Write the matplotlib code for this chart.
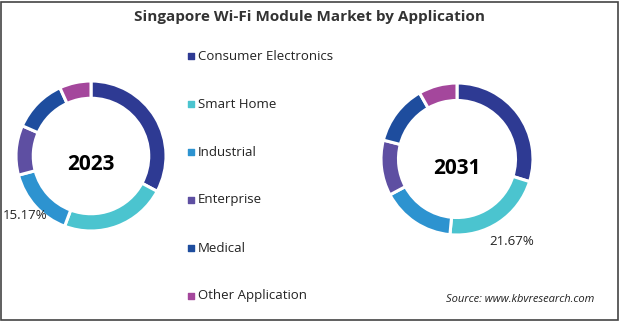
import numpy as np
import matplotlib.pyplot as plt
from matplotlib.patches import Rectangle

plt.rcParams['font.family'] = ['Open Sans', 'DejaVu Sans']

categories = ["Consumer Electronics", "Smart Home", "Industrial",
              "Enterprise", "Medical", "Other Application"]
colors = ["#2E3A93", "#4BC4CF", "#2D93D0", "#5E4FA2", "#1E4D9E", "#A4479C"]
share_2023 = [32.8, 22.9, 15.17, 10.7, 11.6, 6.8]
share_2031 = [29.8, 21.67, 15.7, 11.8, 12.8, 8.2]
years = ["2023", "2031"]
labelled = [2, 1]  # which slice gets its percentage shown


def donut(ax, values, cx, cy, r, year, idx, lab_dist):
    wedges, _ = ax.pie(values, colors=colors, startangle=90, counterclock=False,
                       center=(cx, cy), radius=r,
                       wedgeprops=dict(width=r * 0.23, edgecolor="white", linewidth=2.2))
    ax.text(cx, cy - 9, year, ha="center", va="center", fontsize=15,
            fontweight="bold", color="black")
    w = wedges[idx]
    mid = np.deg2rad((w.theta1 + w.theta2) / 2)
    ax.text(cx + lab_dist * r * np.cos(mid), cy + lab_dist * r * np.sin(mid),
            f"{values[idx]:.2f}%", ha="center", va="center", fontsize=9.5, color="#222222")


fig = plt.figure(figsize=(6.2, 3.21), dpi=100)
ax = fig.add_axes([0, 0, 1, 1])

donut(ax, share_2023, 91, 165, 75, years[0], labelled[0], 1.19)
donut(ax, share_2031, 457, 162, 76, years[1], labelled[1], 1.30)

# pie() resets the limits, so fix them afterwards
ax.set_xlim(0, 620)
ax.set_ylim(0, 321)
ax.set_aspect("equal")
ax.axis("off")

# legend in the middle
for i, (name, c) in enumerate(zip(categories, colors)):
    y = 265 - i * 48
    ax.scatter([191], [y], marker="s", s=18, color=c)
    ax.text(198, y, name, ha="left", va="center", fontsize=9.5, color="#222222")

ax.text(310, 304, "Singapore Wi-Fi Module Market by Application", ha="center",
        va="center", fontsize=11, fontweight="bold", color="#333333")
ax.text(594, 21, "Source: www.kbvresearch.com", ha="right", va="center",
        fontsize=8, style="italic", color="#222222")

ax.add_patch(Rectangle((1, 1), 617, 318, fill=False, edgecolor="#444444", linewidth=1.2))

fig.savefig("out.png", dpi=100)
